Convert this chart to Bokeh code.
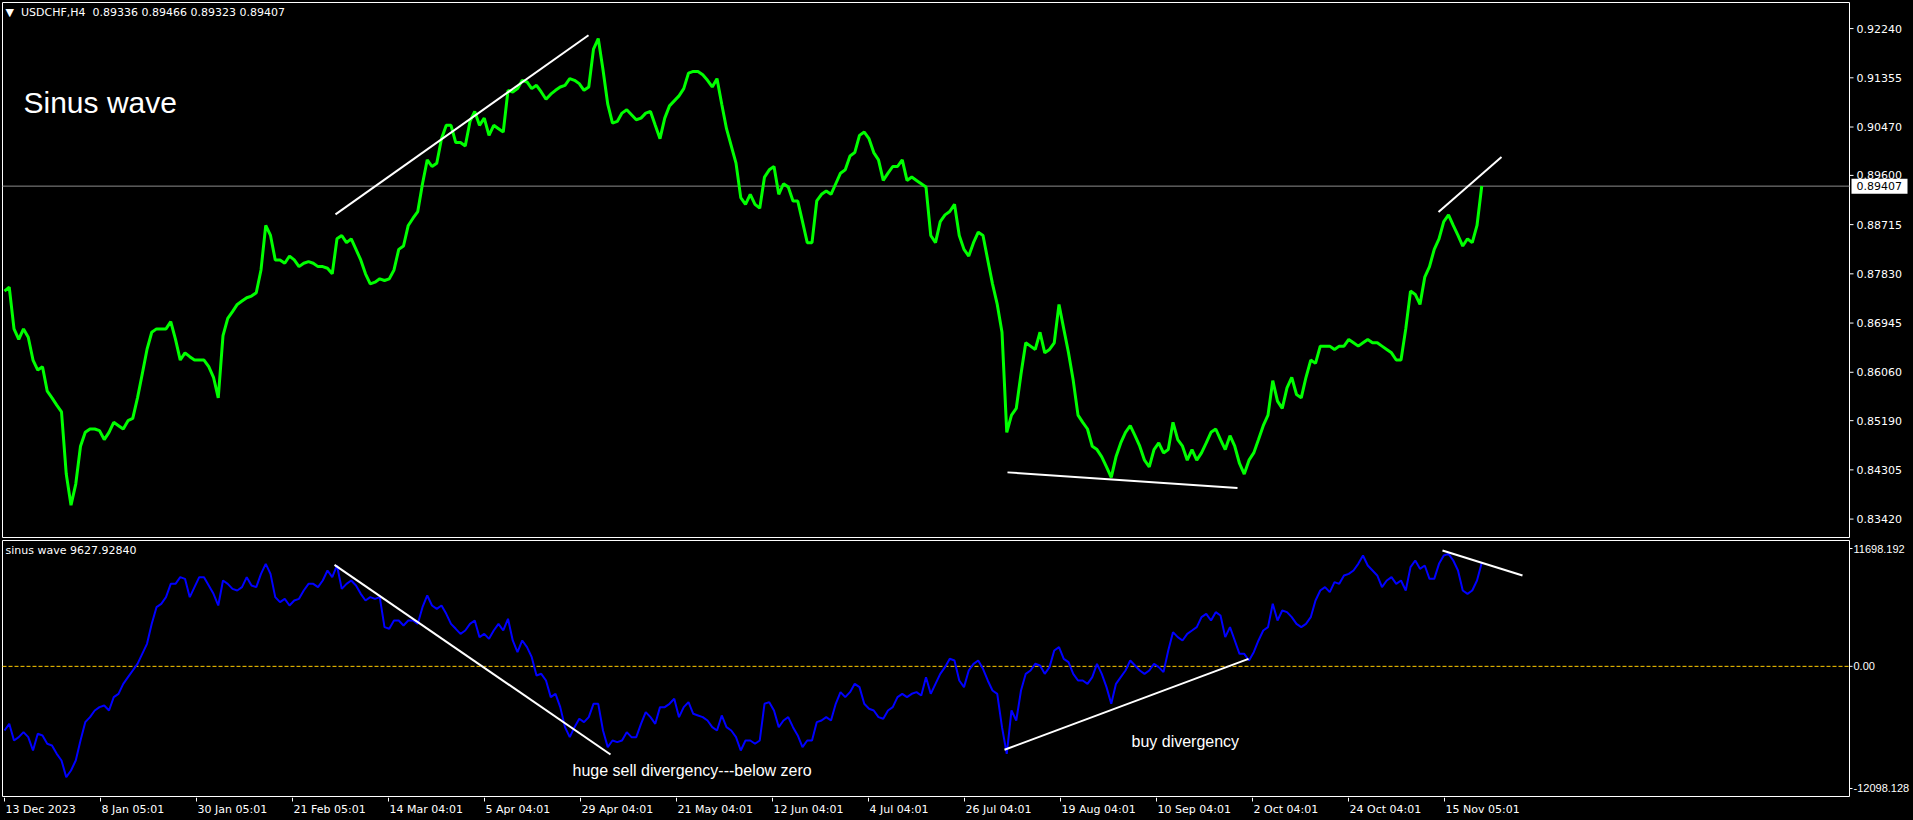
import numpy as np
from bokeh.plotting import figure
from bokeh.layouts import column
from bokeh.models import Range1d, Label, GlobalInlineStyleSheet
from bokeh.core.properties import value
from bokeh.embed import file_html
from bokeh.resources import INLINE

# ---------------- data ----------------
header_text = "\u25BC\u00a0 USDCHF,H4\u00a0 0.89336 0.89466 0.89323 0.89407"
last_price = 0.89407
indicator_title = "sinus wave 9627.92840"
chart_title = "Sinus wave"
sell_note = "huge sell divergency---below zero"
buy_note = "buy divergency"

price_ticks = [0.92240, 0.91355, 0.90470, 0.89600, 0.88715, 0.87830,
               0.86945, 0.86060, 0.85190, 0.84305, 0.83420]
price_window = (0.83089, 0.92709)

wave_tick_values = [10954, 0, -11354]
wave_tick_labels = ["11698.192", "0.00", "-12098.128"]
wave_window = (-12098.128, 11698.192)

date_labels = ["13 Dec 2023", "8 Jan 05:01", "30 Jan 05:01", "21 Feb 05:01",
               "14 Mar 04:01", "5 Apr 04:01", "29 Apr 04:01", "21 May 04:01",
               "12 Jun 04:01", "4 Jul 04:01", "26 Jul 04:01", "19 Aug 04:01",
               "10 Sep 04:01", "2 Oct 04:01", "24 Oct 04:01", "15 Nov 05:01"]
bars_per_label = 96
first_bar = 4
sample_step = 4.75   # bars between two read samples

price_close = [
    0.8752, 0.8759, 0.8684, 0.8665, 0.8684, 0.8669, 0.8628, 0.8610, 0.8616, 0.8572,
    0.8560, 0.8547, 0.8535, 0.8423, 0.8367, 0.8405, 0.8473, 0.8498, 0.8504, 0.8504,
    0.8501, 0.8485, 0.8498, 0.8516, 0.8510, 0.8504, 0.8519, 0.8523, 0.8560, 0.8603,
    0.8647, 0.8678, 0.8684, 0.8684, 0.8684, 0.8697, 0.8665, 0.8628, 0.8641, 0.8634,
    0.8628, 0.8628, 0.8628, 0.8616, 0.8597, 0.8560, 0.8672, 0.8703, 0.8715, 0.8728,
    0.8734, 0.8740, 0.8743, 0.8749, 0.8790, 0.8870, 0.8852, 0.8808, 0.8808, 0.8802,
    0.8815, 0.8808, 0.8796, 0.8802, 0.8805, 0.8802, 0.8796, 0.8796, 0.8793, 0.8783,
    0.8846, 0.8852, 0.8839, 0.8846, 0.8827, 0.8808, 0.8783, 0.8765, 0.8768, 0.8774,
    0.8771, 0.8774, 0.8790, 0.8827, 0.8833, 0.8870, 0.8883, 0.8895, 0.8945, 0.8988,
    0.8976, 0.8982, 0.9026, 0.9050, 0.9050, 0.9019, 0.9019, 0.9013, 0.9057, 0.9075,
    0.9050, 0.9063, 0.9032, 0.9050, 0.9044, 0.9038, 0.9113, 0.9110, 0.9116, 0.9131,
    0.9128, 0.9116, 0.9122, 0.9110, 0.9097, 0.9106, 0.9113, 0.9119, 0.9122, 0.9134,
    0.9131, 0.9125, 0.9113, 0.9119, 0.9187, 0.9206, 0.9150, 0.9088, 0.9054, 0.9057,
    0.9072, 0.9078, 0.9069, 0.9060, 0.9063, 0.9072, 0.9075, 0.9050, 0.9026, 0.9063,
    0.9085, 0.9094, 0.9103, 0.9116, 0.9144, 0.9147, 0.9147, 0.9141, 0.9131, 0.9119,
    0.9134, 0.9088, 0.9044, 0.9013, 0.8982, 0.8920, 0.8908,
    0.8926, 0.8908, 0.8901, 0.8957, 0.8970, 0.8976, 0.8926, 0.8945, 0.8939, 0.8914,
    0.8914, 0.8877, 0.8839, 0.8839, 0.8914, 0.8926, 0.8932, 0.8926, 0.8945, 0.8964,
    0.8970, 0.8995, 0.9001, 0.9032, 0.9038, 0.9026, 0.9001, 0.8988, 0.8951, 0.8964,
    0.8976, 0.8976, 0.8988, 0.8951, 0.8957, 0.8951, 0.8945, 0.8939, 0.8852, 0.8839,
    0.8877, 0.8889, 0.8895, 0.8908, 0.8852, 0.8827, 0.8815, 0.8839, 0.8858, 0.8852,
    0.8808, 0.8765, 0.8728, 0.8678, 0.8498, 0.8529, 0.8541, 0.8603, 0.8659, 0.8653,
    0.8647, 0.8678, 0.8641, 0.8647, 0.8659, 0.8728, 0.8684, 0.8641, 0.8591, 0.8529,
    0.8516, 0.8504, 0.8473, 0.8467, 0.8454, 0.8436, 0.8417, 0.8454, 0.8479, 0.8498,
    0.8510, 0.8492, 0.8473, 0.8448, 0.8436, 0.8467, 0.8479, 0.8461, 0.8467, 0.8516,
    0.8485, 0.8473, 0.8448, 0.8467, 0.8448, 0.8461, 0.8479, 0.8498, 0.8504, 0.8485,
    0.8467, 0.8492, 0.8473, 0.8442, 0.8423, 0.8448, 0.8461, 0.8485, 0.8510, 0.8529,
    0.8591, 0.8554, 0.8541, 0.8578, 0.8597, 0.8566, 0.8560, 0.8597, 0.8628, 0.8622,
    0.8653, 0.8653, 0.8653, 0.8647, 0.8653, 0.8653, 0.8665, 0.8659, 0.8653, 0.8659,
    0.8665, 0.8659, 0.8659, 0.8653, 0.8647, 0.8641, 0.8628, 0.8628, 0.8684, 0.8752,
    0.8746, 0.8728, 0.8777, 0.8796, 0.8827, 0.8846, 0.8877, 0.8889, 0.8870, 0.8852,
    0.8833, 0.8846, 0.8839, 0.8870, 0.8941,
]

wave_values = [
    -5961, -5341, -6890, -6580, -6116, -6580, -7819, -6270, -6425, -7200,
    -7355, -8129, -8749, -10298, -9678, -8749, -6890, -5186, -4721, -4102,
    -3792, -3637, -4102, -2863, -2553, -1623, -1004, -384, 236, 1165,
    2094, 3953, 5502, 5812, 6432, 7671, 7671, 8290, 8135, 6432,
    7361, 8290, 8290, 7516, 6741, 5657, 7980, 7671, 7206, 7051,
    7361, 8290, 7516, 7361, 8600, 9529, 8600, 6432, 5967, 6277,
    5657, 6122, 6277, 7051, 7671, 7671, 7361, 7980, 8910, 8290,
    9375, 7206, 7671, 7980, 7516, 6741, 6122, 6432, 6277, 6432,
    3643, 3489, 4263, 4263, 3798, 4263, 4263, 3953, 5502, 6586,
    5657, 5347, 5657, 4883, 3953, 3489, 3024, 3333, 3953, 4263,
    2714, 3024, 2559, 3333, 3953, 3333, 4418, 2404, 1320, 2404,
    1784, 855, -849, -694, -1314, -2863, -2553, -3792, -5651, -6580,
    -5651, -4876, -5186, -4721, -3482, -3482, -5961, -7510, -6890, -7045,
    -6890, -6116, -6580, -6580, -5341, -4257, -4721, -5341, -3792, -3792,
    -3482, -3017, -4721, -3792, -3327, -4412, -4566, -4721, -5031, -5651,
    -5961, -4566, -5651, -5961, -6580, -7819, -6890,
    -6890, -7200, -6890, -3482, -3327, -4102, -5651, -5031, -4721, -5651,
    -6425, -7510, -6890, -6890, -5186, -5031, -4721, -5031, -3482, -2398,
    -2863, -2398, -1623, -1933, -3482, -3947, -4102, -4721, -4876, -4102,
    -3792, -2863, -2553, -2863, -2553, -2398, -2707, -1004, -2553, -1623,
    -694, -74, 700, 545, -1314, -1933, -384, 236, 545, -229,
    -1314, -2243, -2553, -5651, -8129, -4102, -5031, -2243, -694, -384,
    236, 81, -694, -74, 1475, 1784, 700, 390, -694, -1314,
    -1314, -1623, -1004, 236, -694, -1933, -3482, -1623, -1004, -384,
    545, 81, -384, -694, -384, 236, -74, -539, 1475, 3178,
    2714, 2404, 3024, 3333, 3643, 4573, 4883, 4263, 5038, 4728,
    2714, 3643, 2404, 1165, 1165, 545, 1320, 2404, 3333, 3643,
    5812, 4263, 5192, 5038, 4573, 3953, 3643, 3953, 4573, 6122,
    7051, 7361, 6896, 7826, 7671, 8445, 8600, 8910, 9529, 10304,
    9375, 8910, 8445, 7361, 7980, 8290, 7671, 7980, 7051, 9220,
    9839, 9065, 9375, 8135, 8135, 9529, 10304, 10459, 9839, 8910,
    7051, 6741, 7051, 7980, 9628,
]

# hand-drawn trend lines (bar, value) pairs
price_trend_1 = ([335, 588], [0.8890, 0.9212])
price_trend_2 = ([1007, 1237], [0.8426, 0.8398])
price_trend_3 = ([1438, 1501], [0.8894, 0.8993])
wave_trend_1 = ([334, 610], [9437, -8191])
wave_trend_2 = ([1004, 1248], [-7757, 700])
wave_trend_3 = ([1442, 1522], [10770, 8445])

# ---------------- layout constants ----------------
FONT = "DejaVu Sans"
TXT = "Liberation Sans"
PAGE_W = 1913
CHART_LEFT, CHART_RIGHT = 2, 1849        # chart area, 1 bar = 1 px
TOP_H, TOP_PAD_T, TOP_PAD_B = 538, 2, 1  # price panel: 535 px window
LOW_H, LOW_PAD_T, LOW_PAD_B = 259, 2, 1  # indicator panel: 256 px window
DATE_H = 23
ppx = (price_window[1] - price_window[0]) / (TOP_H - TOP_PAD_T - TOP_PAD_B)
wpx = (wave_window[1] - wave_window[0]) / (LOW_H - LOW_PAD_T - LOW_PAD_B)

price_x = first_bar + sample_step * np.arange(len(price_close))
wave_x = first_bar + sample_step * np.arange(len(wave_values))
date_ticks = [first_bar + bars_per_label * k for k in range(len(date_labels))]


def panel(height, y0, y1):
    f = figure(width=PAGE_W, height=height, x_range=Range1d(0, PAGE_W),
               y_range=Range1d(y0, y1),
               output_backend="svg", toolbar_location=None,
               x_axis_location=None, y_axis_location=None,
               min_border_left=0, min_border_right=0,
               min_border_top=0, min_border_bottom=0,
               background_fill_color="black", border_fill_color="black",
               outline_line_color=None)
    f.grid.visible = False
    return f


def scale_labels(f, ticks, labels, tick_len, gap, font):
    f.segment(x0=CHART_RIGHT, x1=CHART_RIGHT + tick_len, y0=ticks, y1=ticks,
              line_color="white", line_width=1)
    f.text(x=CHART_RIGHT + gap, y=ticks, text=labels,
           text_font=value(font), text_font_size="11px", text_color="white",
           text_baseline="middle", text_align="left")


# ---------------- price panel ----------------
top = panel(TOP_H, price_window[0] - TOP_PAD_B * ppx, price_window[1] + TOP_PAD_T * ppx)
top.quad(left=[CHART_LEFT], right=[CHART_RIGHT], bottom=[price_window[0]],
         top=[price_window[1]], fill_color=None, line_color="white", line_width=1)
scale_labels(top, price_ticks, [f"{t:.5f}" for t in price_ticks], 4, 7, FONT)
top.segment(x0=CHART_LEFT, x1=CHART_RIGHT, y0=last_price, y1=last_price,
            line_color="#8c8c8c", line_width=1)
top.rect(x=CHART_RIGHT + 30, y=last_price, width=56, height=15,
         width_units="screen", height_units="screen",
         fill_color="white", line_color=None)
top.text(x=CHART_RIGHT + 7, y=[last_price], text=[f"{last_price:.5f}"],
         text_font=value(FONT), text_font_size="11px", text_color="black",
         text_baseline="middle", text_align="left")

top.line(price_x, price_close, line_color="#00FF00", line_width=3)
for tx, ty in (price_trend_1, price_trend_2, price_trend_3):
    top.line(tx, ty, line_color="white", line_width=2)

top.add_layout(Label(x=5, y=price_window[1] - 10 * ppx, text=header_text,
                     text_color="white", text_font=FONT, text_font_size="11px",
                     text_baseline="middle", text_align="left"))
top.add_layout(Label(x=23, y=price_window[1] - 100 * ppx, text=chart_title,
                     text_color="white", text_font=TXT, text_font_size="30px",
                     text_baseline="alphabetic", text_align="left"))

# ---------------- indicator panel ----------------
low = panel(LOW_H, wave_window[0] - LOW_PAD_B * wpx, wave_window[1] + LOW_PAD_T * wpx)
low.quad(left=[CHART_LEFT], right=[CHART_RIGHT], bottom=[wave_window[0]],
         top=[wave_window[1]], fill_color=None, line_color="white", line_width=1)
scale_labels(low, wave_tick_values, wave_tick_labels, 3, 4, TXT)
low.segment(x0=CHART_LEFT, x1=CHART_RIGHT, y0=0, y1=0, line_color="#FFCC00",
            line_dash="4 2", line_width=1)
low.line(wave_x, wave_values, line_color="#0000FF", line_width=2)
for tx, ty in (wave_trend_1, wave_trend_2, wave_trend_3):
    low.line(tx, ty, line_color="white", line_width=2)

low.add_layout(Label(x=5, y=wave_window[1] - 10 * wpx, text=indicator_title,
                     text_color="white", text_font=FONT, text_font_size="11px",
                     text_baseline="middle", text_align="left"))
low.add_layout(Label(x=572, y=-9681, text=sell_note, text_color="white",
                     text_font=TXT, text_font_size="16px",
                     text_baseline="middle", text_align="left"))
low.add_layout(Label(x=1131, y=-6986, text=buy_note, text_color="white",
                     text_font=TXT, text_font_size="16px",
                     text_baseline="middle", text_align="left"))

# ---------------- time scale strip ----------------
dates = panel(DATE_H, DATE_H, 0)
dates.segment(x0=date_ticks, x1=date_ticks, y0=0, y1=4, line_color="white", line_width=1)
dates.text(x=[t + 1 for t in date_ticks], y=12, text=date_labels,
           text_font=value(FONT), text_font_size="11px", text_color="white",
           text_baseline="middle", text_align="left")

page_css = GlobalInlineStyleSheet(css="html,body{margin:0;padding:0;background:#000;overflow:hidden;}")
layout = column(top, low, dates, spacing=0, stylesheets=[page_css])

open("out.html", "w").write(file_html(layout, INLINE))
